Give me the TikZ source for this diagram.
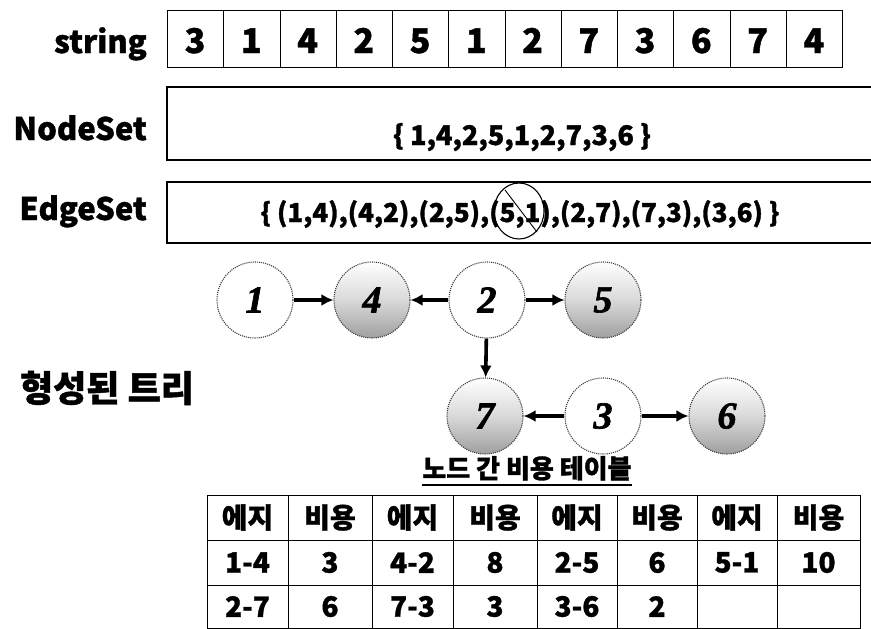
\documentclass[tikz,border=0pt]{standalone}
\usepackage{fontspec}
\setmainfont{Noto Sans CJK KR}[BoldFeatures={FakeBold=1.2}]
\newfontfamily\digitfont{Liberation Serif}[BoldItalicFeatures={FakeBold=1.8}]
\usetikzlibrary{arrows.meta,shapes.geometric,calc}
\tikzset{
  cellbox/.style={draw=black, line width=1.2pt, minimum width=56.25pt, minimum height=57pt, inner sep=0pt, anchor=north west},
  celltext/.style={anchor=base, inner sep=0pt, font=\fontsize{34}{34}\selectfont\bfseries},
  setlabel/.style={anchor=base east, inner sep=0pt, font=\fontsize{31}{31}\selectfont\bfseries},
  setbox/.style={draw=black, line width=1.6pt},
  settext/.style={anchor=base, inner sep=0pt, font=\fontsize{27}{27}\selectfont\bfseries},
  treenode/.style={circle, minimum size=76pt, inner sep=0pt, draw=black!75, densely dotted, line width=1.1pt, font=\digitfont\fontsize{38}{38}\selectfont\bfseries\itshape},
  shadednode/.style={treenode, top color=white, bottom color=gray!75, middle color=gray!30},
  plainnode/.style={treenode, fill=white},
  treearrow/.style={-{Latex[length=12pt,width=12pt]}, line width=3.6pt, black, solid},
  tcell/.style={draw=black, line width=1pt, inner sep=0pt, font=\fontsize{28}{28}\selectfont\bfseries},
}
\begin{document}
\begin{tikzpicture}[x=1pt,y=-1pt]
\useasboundingbox (0,0) rectangle (871,629);
% string row
\node[setlabel] (strlabel) at (147,53) {string};
\foreach \d [count=\i from 0] in {3,1,4,2,5,1,2,7,3,6,7,4} {
  \node[cellbox] (s\i) at ({167+56.25*\i},10) {};
  \node[celltext] (sd\i) at ({167+56.25*\i+28.1},53) {\d};
}
% NodeSet
\node[setlabel] (nslabel) at (147,140) {NodeSet};
\draw[setbox] (880,87) -- (167,87) -- (167,160) -- (880,160);
\node[settext] (nstext) at (522,145) {\{ 1,4,2,5,1,2,7,3,6 \}};
% EdgeSet
\node[setlabel] (eslabel) at (147,220) {EdgeSet};
\draw[setbox] (880,182) -- (167,182) -- (167,243) -- (880,243);
\node[settext, font=\fontsize{26}{26}\selectfont\bfseries] (estext) at (520,222) {\{ (1,4),(4,2),(2,5),(5,1),(2,7),(7,3),(3,6) \}};
\node[ellipse, draw=black, line width=1.1pt, minimum width=50pt, minimum height=56pt, inner sep=0pt] (cross) at (519,211) {};
\coordinate (sl1) at (505,190);
\coordinate (sl2) at (537,232);
\draw[line width=0.9pt] (sl1) -- (sl2);
% tree label
\node[inner sep=0pt, font=\fontsize{36}{36}\selectfont\bfseries] (treelabel) at (107,388) {형성된 트리};
% tree
\node[plainnode] (n1) at (255,300) {1};
\node[shadednode] (n4) at (372,300) {4};
\node[plainnode] (n2) at (487,300) {2};
\node[shadednode] (n5) at (603,300) {5};
\node[shadednode] (n7) at (485,416) {7};
\node[plainnode] (n3) at (603,416) {3};
\node[shadednode] (n6) at (727,416) {6};
\draw[treearrow] (n1) -- (n4);
\draw[treearrow] (n2) -- (n4);
\draw[treearrow] (n2) -- (n5);
\draw[treearrow] (n2) -- (n7);
\draw[treearrow] (n3) -- (n7);
\draw[treearrow] (n3) -- (n6);
% table title
\node[inner sep=0pt, anchor=base, font=\fontsize{26}{26}\selectfont\bfseries] (ttitle) at (527,478) {노드 간 비용 테이블};
\draw[line width=1.8pt] ($(ttitle.south west)+(0,4)$) -- ($(ttitle.south east)+(0,4)$);
% table
\def\colx{{207,288,372,453,537,617,697,777,860}}
\def\rowy{{495,540,585,628}}
\foreach \r/\cells in {0/{에지,비용,에지,비용,에지,비용,에지,비용},1/{1-4,3,4-2,8,2-5,6,5-1,10},2/{2-7,6,7-3,3,3-6,2,{},{}}} {
  \foreach \c [count=\j from 0] in \cells {
    \pgfmathsetmacro{\xa}{\colx[\j]}
    \pgfmathsetmacro{\xb}{\colx[\j+1]}
    \pgfmathsetmacro{\ya}{\rowy[\r]}
    \pgfmathsetmacro{\yb}{\rowy[\r+1]}
    \node[tcell, minimum width={\xb-\xa}, minimum height={\yb-\ya}] (t\r-\j) at ({(\xa+\xb)/2},{(\ya+\yb)/2}) {\c};
  }
}
\end{tikzpicture}
\end{document}
